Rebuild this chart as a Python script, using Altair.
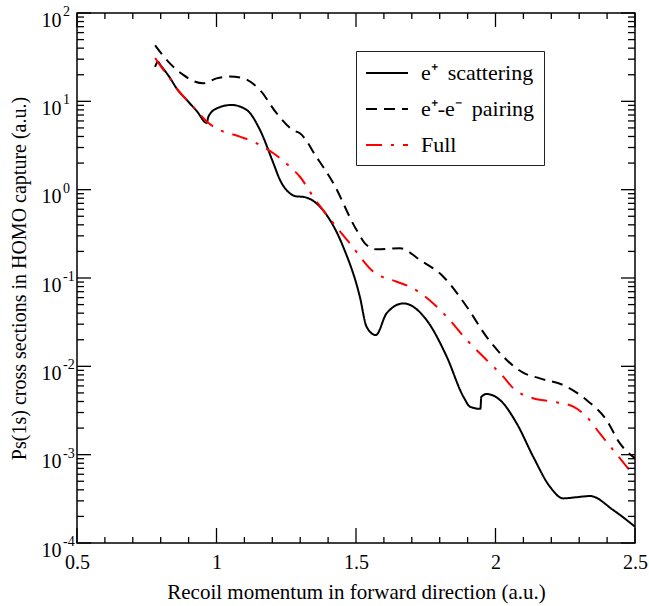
import altair as alt
import pandas as pd

FONT = "Liberation Serif, Times New Roman, serif"
W, H = 558, 530

labels = ["e⁺\u2009 scattering", "e⁺-e⁻\u2009 pairing", "Full"]

# e+ scattering (solid)
scat_x = [0.780, 0.790, 0.800, 0.833, 0.857, 0.893, 0.930, 0.965, 0.971, 1.000, 1.054, 1.108,
          1.156, 1.204, 1.228, 1.263, 1.285, 1.310, 1.371, 1.454, 1.514, 1.538, 1.571, 1.610,
          1.670, 1.753, 1.825, 1.885, 1.909, 1.946, 1.949, 1.968, 2.016, 2.076, 2.135, 2.195,
          2.243, 2.290, 2.339, 2.422, 2.500]
scat_y = [24.5, 28.0, 25.5, 18.5, 14.0, 10.4, 7.7, 5.7, 6.7, 8.3, 9.1, 8.0,
          4.73, 1.99, 1.28, 0.91, 0.84, 0.83, 0.64, 0.226, 0.061, 0.028, 0.0226, 0.040,
          0.0516, 0.0334, 0.0129, 0.00453, 0.00349, 0.0033, 0.0045, 0.00486, 0.00416, 0.00226,
          0.00095, 0.000434, 0.00032, 0.00033, 0.00034, 0.000236, 0.000153]

# e+-e- pairing (dashed)
pair_x = [0.780, 0.797, 0.833, 0.881, 0.917, 0.953, 1.000, 1.048, 1.096, 1.156, 1.216, 1.275,
          1.299, 1.360, 1.419, 1.502, 1.538, 1.574, 1.658, 1.729, 1.813, 1.897, 1.968, 2.040,
          2.099, 2.159, 2.255, 2.326, 2.398, 2.446, 2.500]
pair_y = [43.0, 36.5, 26.9, 19.9, 17.0, 16.0, 18.2, 19.1, 18.2, 13.4, 7.3, 4.7,
          4.35, 2.3, 1.18, 0.349, 0.236, 0.211, 0.217, 0.16, 0.1035, 0.0473, 0.0216, 0.0118,
          0.00847, 0.00731, 0.00589, 0.00416, 0.00247, 0.00134, 0.00091]

# Full (red dash-dot)
full_x = [0.780, 0.800, 0.833, 0.857, 0.893, 0.930, 0.965, 0.989, 1.084, 1.132, 1.204, 1.263,
          1.299, 1.347, 1.419, 1.478, 1.562, 1.646, 1.693, 1.777, 1.825, 1.897, 1.968, 2.028,
          2.064, 2.135, 2.207, 2.279, 2.326, 2.374, 2.422, 2.500]
full_y = [31.0, 25.0, 18.2, 14.0, 10.4, 7.8, 5.9, 5.17, 3.98, 3.49, 2.58, 1.82,
          1.4, 0.83, 0.416, 0.247, 0.118, 0.0908, 0.0796, 0.0516, 0.0365, 0.0199, 0.0118, 0.00764,
          0.00564, 0.00435, 0.00398, 0.00349, 0.00269, 0.00174, 0.00113, 0.00056]

x_major = [0.5, 1.0, 1.5, 2.0, 2.5]
x_minor = [0.6, 0.7, 0.8, 0.9, 1.1, 1.2, 1.3, 1.4, 1.6, 1.7, 1.8, 1.9, 2.1, 2.2, 2.3, 2.4]
y_exps = [-4, -3, -2, -1, 0, 1, 2]
y_mults = [2, 3, 4, 5, 6, 7, 8, 9]

rows = []
for name, xs, ys in [(labels[0], scat_x, scat_y), (labels[1], pair_x, pair_y), (labels[2], full_x, full_y)]:
    for i, (a, b) in enumerate(zip(xs, ys)):
        rows.append({"series": name, "x": a, "y": b, "i": i})
df = pd.DataFrame(rows)

y_major = [10.0 ** e for e in y_exps]
y_minor = [m * 10.0 ** e for e in y_exps[:-1] for m in y_mults]

xscale = alt.Scale(domain=[0.5, 2.5], nice=False, zero=False)
yscale = alt.Scale(type="log", domain=[1e-4, 1e2], nice=False)

x_axis = alt.Axis(title="Recoil momentum in forward direction (a.u.)", values=x_major,
                  format="~g", ticks=False, domain=False, grid=False, labelFlush=False,
                  labelPadding=9, titlePadding=9, titleFontSize=21)
y_axis = alt.Axis(title="Ps(1s) cross sections in HOMO capture (a.u.)", values=y_major,
                  labelExpr="'10'", ticks=False, domain=False, grid=False, labelFlush=False,
                  labelPadding=16, labelOffset=7, titlePadding=12)

lines = alt.Chart(df).mark_line(interpolate="monotone", clip=True).encode(
    x=alt.X("x:Q", scale=xscale, axis=x_axis),
    y=alt.Y("y:Q", scale=yscale, axis=y_axis),
    color=alt.Color("series:N", scale=alt.Scale(domain=labels, range=["black", "black", "#ff0000"]),
                    legend=alt.Legend(title=None, orient="none", legendX=279, legendY=38)),
    strokeDash=alt.StrokeDash("series:N", scale=alt.Scale(domain=labels, range=[[1, 0], [11, 7], [16, 9, 3, 9]])),
    strokeWidth=alt.StrokeWidth("series:N", scale=alt.Scale(domain=labels, range=[2, 2, 4.3])),
    order="i:Q",
)

def ticks_y(vals, x0, x1):
    return alt.Chart(pd.DataFrame({"v": vals})).mark_rule(color="black", strokeWidth=1.3).encode(
        y=alt.Y("v:Q", scale=yscale, axis=y_axis), x=alt.value(x0), x2=alt.value(x1))

def ticks_x(vals, y0, y1):
    return alt.Chart(pd.DataFrame({"v": vals})).mark_rule(color="black", strokeWidth=1.3).encode(
        x=alt.X("v:Q", scale=xscale, axis=x_axis), y=alt.value(y0), y2=alt.value(y1))

tick_layers = [
    ticks_y(y_major, 0, 14), ticks_y(y_minor, 0, 7),
    ticks_y(y_major, W - 14, W), ticks_y(y_minor, W - 7, W),
    ticks_x(x_major, H - 15, H), ticks_x(x_minor, H - 6, H),
    ticks_x(x_major, 0, 14), ticks_x(x_minor, 0, 6),
]

exp_df = pd.DataFrame({"v": y_major, "t": [str(e) for e in y_exps]})
exps = alt.Chart(exp_df).mark_text(font=FONT, fontSize=14, align="left", baseline="middle", dy=-1).encode(
    y=alt.Y("v:Q", scale=yscale, axis=y_axis), x=alt.value(-14), text="t:N")

chart = alt.layer(lines, *tick_layers, exps).properties(
    width=W, height=H,
    padding={"left": 77, "top": 13, "right": 14, "bottom": 63},
    autosize=alt.AutoSizeParams(type="none"),
).configure_view(
    stroke="black", strokeWidth=1.5
).configure_axis(
    labelFont=FONT, titleFont=FONT, labelFontSize=20, titleFontSize=20,
    titleFontWeight="normal", labelColor="black", titleColor="black"
).configure_legend(
    labelFont=FONT, labelFontSize=22, labelColor="black", strokeColor="#222222",
    fillColor="white", padding=9, cornerRadius=0,
    symbolType="M-1.75,0L1.75,0", symbolSize=576, symbolOffset=9,
    symbolStrokeWidth=2.5, labelOffset=21, rowPadding=12,
)

chart.save("out.html", embed_options={"renderer": "svg", "actions": False})
